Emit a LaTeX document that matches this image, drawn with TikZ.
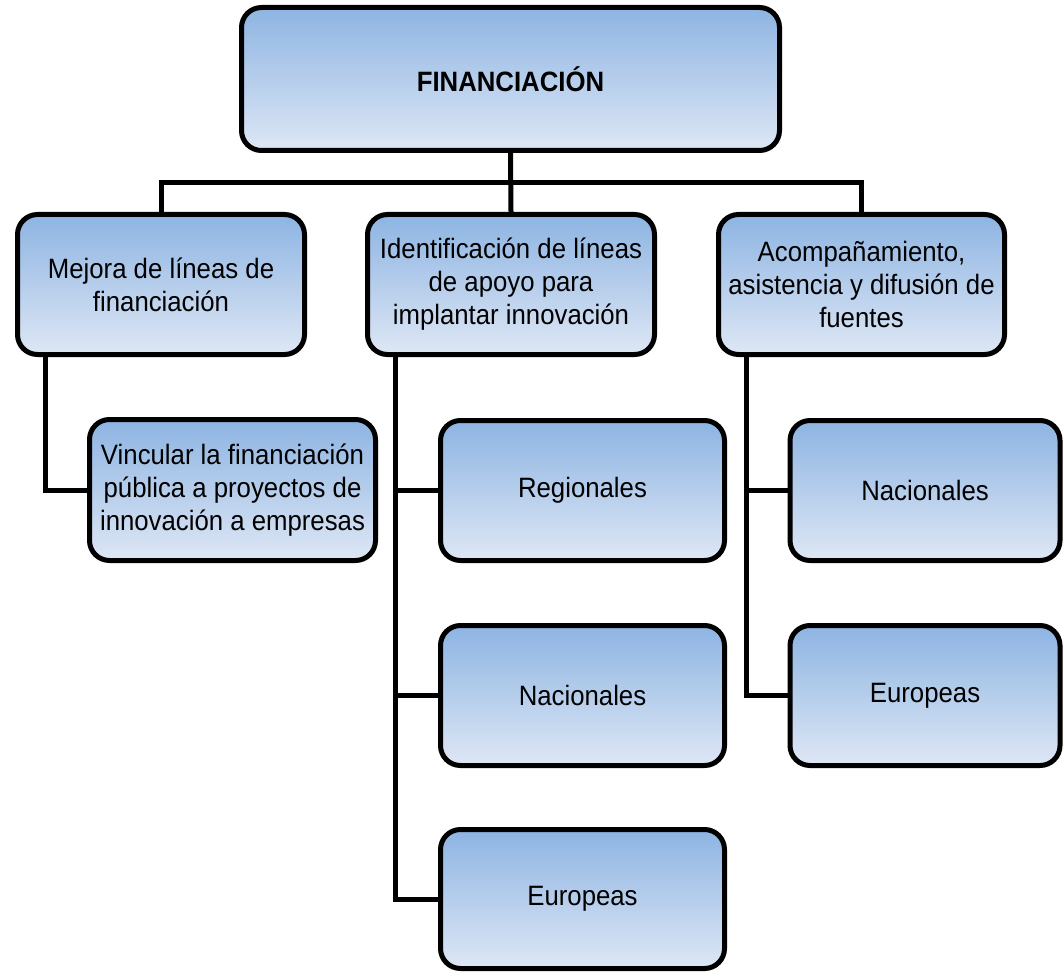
\documentclass[tikz,border=0pt]{standalone}
\usepackage{fontspec}
\setmainfont[FakeStretch=0.92]{Liberation Sans}
\definecolor{gtop}{RGB}{141,180,226}
\definecolor{gbot}{RGB}{222,231,245}
\begin{document}
\begin{tikzpicture}[x=1pt,y=-1pt,
  box/.style={draw=black,line width=5pt,rounded corners=20pt,top color=gtop,bottom color=gbot,
    align=center,inner sep=2pt,font=\fontsize{28}{33}\selectfont,text=black},
  conn/.style={draw=black,line width=5pt}]
\useasboundingbox (0,0) rectangle (1064,973);
\node[box,minimum width=538pt,minimum height=143pt,font=\fontsize{28}{33}\selectfont\bfseries] (top) at (510.5,79) {FINANCIACIÓN};
\node[box,minimum width=287pt,minimum height=140pt] (A) at (161,284.5) {Mejora de líneas de\\financiación};
\node[box,minimum width=287pt,minimum height=140pt] (B) at (511,284.5) {Identificación de líneas\\de apoyo para\\implantar innovación};
\node[box,minimum width=286pt,minimum height=140pt] (C) at (861.5,284.5) {Acompañamiento,\\asistencia y difusión de\\fuentes};
\node[box,minimum width=286pt,minimum height=141pt] (V) at (232.5,490) {Vincular la financiación\\pública a proyectos de\\innovación a empresas};
\node[box,minimum width=284pt,minimum height=140pt] (R) at (582.5,490.5) {Regionales};
\node[box,minimum width=284pt,minimum height=140pt] (NB) at (582.5,695.5) {Nacionales};
\node[box,minimum width=284pt,minimum height=139pt] (EB) at (582.5,899) {Europeas};
\node[box,minimum width=270pt,minimum height=140pt] (NC) at (925,490.5) {Nacionales};
\node[box,minimum width=270pt,minimum height=140pt] (EC) at (925,695.5) {Europeas};
\coordinate (bus) at (0,183);
% top level bus
\draw[conn] (top.south) -- (B.north);
\draw[conn] (A.north) -- (A.north |- bus) -- (C.north |- bus) -- (C.north);
% branch A
\draw[conn] ([xshift=30pt]A.south west) |- (V.west);
% branch B
\coordinate (bx) at ([xshift=30pt]B.south west);
\draw[conn] (bx) |- (EB.west);
\draw[conn] (R.west) -- (R.west -| bx);
\draw[conn] (NB.west) -- (NB.west -| bx);
% branch C
\coordinate (cx) at ([xshift=30pt]C.south west);
\draw[conn] (cx) |- (EC.west);
\draw[conn] (NC.west) -- (NC.west -| cx);
\end{tikzpicture}
\end{document}
